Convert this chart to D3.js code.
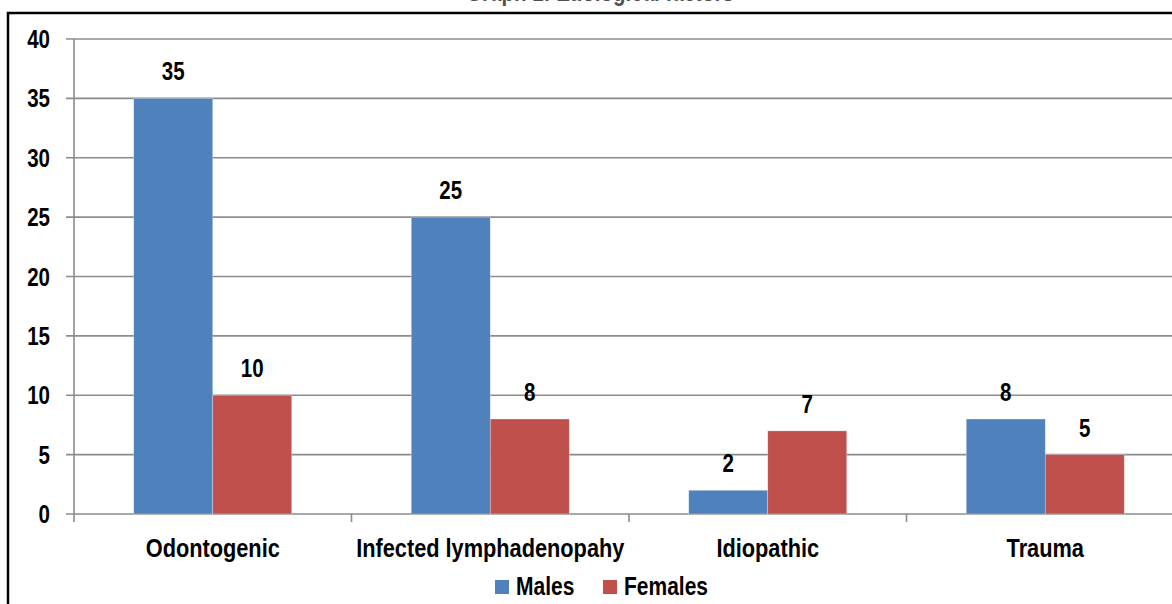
<!DOCTYPE html>
<html>
<head>
<meta charset="utf-8">
<script src="https://cdn.jsdelivr.net/npm/d3@7"></script>
<style>
  html, body { margin: 0; padding: 0; background: #fff; overflow: hidden; }
  svg { display: block; }
  text { font-family: "Liberation Sans", Arial, sans-serif; font-weight: bold; }
</style>
</head>
<body>
<svg id="chart" width="1172" height="604"></svg>
<script>
// data
var categories = ["Odontogenic", "Infected lymphadenopahy", "Idiopathic", "Trauma"];
var seriesNames = ["Males", "Females"];
var males = [35, 25, 2, 8];
var females = [10, 8, 7, 5];
var yTicks = [0, 5, 10, 15, 20, 25, 30, 35, 40];
var titleText = "Graph 1: Etiological factors";

var colors = { "Males": "#4f81bd", "Females": "#c0504d" };

var width = 1172, height = 604;
var mLeft = 74, mRight = 1184, mTop = 39, mBottom = 514;
var narrow = 0.82; // no narrow font here, so squeeze the text

var svg = d3.select("#chart");

// place a text at (x,y) squeezed horizontally
function place(sel, fx, fy, sx) {
    sel.attr("x", 0).attr("y", 0)
        .attr("transform", function (d, i) {
            return "translate(" + fx(d, i) + "," + fy(d, i) + ") scale(" + (sx || narrow) + ",1)";
        });
}

var rows = categories.map(function (c, i) {
    return { cat: c, values: [{ key: "Males", v: males[i] }, { key: "Females", v: females[i] }] };
});

var y = d3.scaleLinear().domain([0, 40]).range([mBottom, mTop]);
var x0 = d3.scaleBand().domain(categories).range([mLeft, mRight]);
var x1 = d3.scaleBand().domain(seriesNames).range([0, x0.step()]).paddingOuter(0.756);

// title, cut by the top of the frame
svg.append("text")
    .datum(titleText)
    .attr("text-anchor", "middle")
    .attr("font-size", 25)
    .attr("fill", "#505050")
    .text(titleText)
    .call(place, function () { return 600; }, function () { return 1; });

// outer frame
svg.append("rect")
    .attr("x", 8).attr("y", 13)
    .attr("width", 1300).attr("height", 700)
    .attr("fill", "none")
    .attr("stroke", "#000")
    .attr("stroke-width", 2.5);

// grid lines
svg.append("g").selectAll("line")
    .data(yTicks)
    .join("line")
    .attr("x1", mLeft - 8).attr("x2", width)
    .attr("y1", function (d) { return y(d); })
    .attr("y2", function (d) { return y(d); })
    .attr("stroke", "#8c8c8c")
    .attr("stroke-width", 1.6);

// y axis line
svg.append("line")
    .attr("x1", mLeft).attr("x2", mLeft)
    .attr("y1", mTop).attr("y2", mBottom + 8)
    .attr("stroke", "#8c8c8c")
    .attr("stroke-width", 1.6);

// y tick labels
svg.append("g").selectAll("text")
    .data(yTicks)
    .join("text")
    .attr("text-anchor", "end")
    .attr("font-size", 25)
    .attr("fill", "#000")
    .text(function (d) { return d; })
    .call(place, function () { return 50; }, function (d) { return y(d) + 9; });

// category ticks
svg.append("g").selectAll("line")
    .data(categories.slice(1))
    .join("line")
    .attr("x1", function (d) { return x0(d); })
    .attr("x2", function (d) { return x0(d); })
    .attr("y1", mBottom).attr("y2", mBottom + 8)
    .attr("stroke", "#8c8c8c")
    .attr("stroke-width", 1.6);

// bars
var group = svg.append("g").selectAll("g")
    .data(rows)
    .join("g")
    .attr("transform", function (d) { return "translate(" + x0(d.cat) + ",0)"; });

group.selectAll("rect")
    .data(function (d) { return d.values; })
    .join("rect")
    .attr("x", function (d) { return x1(d.key); })
    .attr("y", function (d) { return y(d.v); })
    .attr("width", x1.bandwidth())
    .attr("height", function (d) { return y(0) - y(d.v); })
    .attr("fill", function (d) { return colors[d.key]; })
    .attr("stroke", "rgba(255,255,255,0.5)")
    .attr("stroke-width", 0.6);

// value labels
group.selectAll("text")
    .data(function (d) { return d.values; })
    .join("text")
    .attr("text-anchor", "middle")
    .attr("font-size", 25)
    .attr("fill", "#000")
    .text(function (d) { return d.v; })
    .call(place,
        function (d) { return x1(d.key) + x1.bandwidth() / 2; },
        function (d) { return y(d.v) - 18; });

// category labels
svg.append("g").selectAll("text")
    .data(categories)
    .join("text")
    .attr("text-anchor", "middle")
    .attr("font-size", 25)
    .attr("fill", "#000")
    .text(function (d) { return d; })
    .call(place,
        function (d) { return x0(d) + x0.bandwidth() / 2; },
        function () { return 557; }, 0.87);

// legend
var legendX = [495, 603];
var legend = svg.append("g").selectAll("g")
    .data(seriesNames)
    .join("g")
    .attr("transform", function (d, i) { return "translate(" + legendX[i] + ",580)"; });

legend.append("rect")
    .attr("width", 14).attr("height", 14)
    .attr("fill", function (d) { return colors[d]; });

legend.append("text")
    .attr("font-size", 25)
    .attr("fill", "#000")
    .text(function (d) { return d; })
    .call(place, function () { return 21; }, function () { return 15; }, 0.84);
</script>
</body>
</html>
